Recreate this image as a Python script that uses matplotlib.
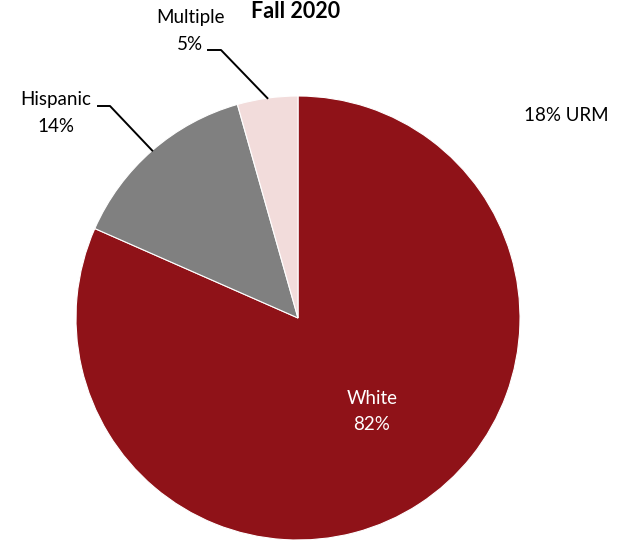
import numpy as np
import matplotlib
matplotlib.use("Agg")
import matplotlib.pyplot as plt

categories = ["White", "Hispanic", "Multiple"]
values = [81.6, 14.0, 4.4]
pct_labels = ["82%", "14%", "5%"]
colors = ["#8F1218", "#808080", "#F2DCDB"]
title = "Fall 2020"
note = "18% URM"

plt.rcParams['font.family'] = ['Lato', 'DejaVu Sans']

W, H = 618, 540
fig = plt.figure(figsize=(W / 100, H / 100), dpi=100)
cx, cy, r = 298, 318, 222
ax = fig.add_axes([(cx - r) / W, (H - cy - r) / H, 2 * r / W, 2 * r / H])
wedges, _ = ax.pie(values, colors=colors, startangle=90, counterclock=False,
                   wedgeprops=dict(edgecolor="white", linewidth=0.8))
ax.set_xlim(-1, 1)
ax.set_ylim(-1, 1)
ax.set_aspect("equal")
ax.axis("off")

fs = 13.5

def px(x, y):
    return (x / W, 1 - y / H)

# White label inside
fig.text(*px(372, 398), categories[0], ha="center", va="center", color="white", fontsize=fs)
fig.text(*px(372, 425), pct_labels[0], ha="center", va="center", color="white", fontsize=fs)

# Leader lines for outside labels
elbows = {1: (110, 106), 2: (221, 50)}
ends = {1: (98, 106), 2: (208, 50)}
for i in (1, 2):
    w = wedges[i]
    ang = np.deg2rad((w.theta1 + w.theta2) / 2)
    ex = cx + r * np.cos(ang)
    ey = cy - r * np.sin(ang)
    xs = [ex, elbows[i][0], ends[i][0]]
    ys = [ey, elbows[i][1], ends[i][1]]
    fig.add_artist(plt.Line2D([x / W for x in xs], [1 - y / H for y in ys],
                              color="black", linewidth=1.4, transform=fig.transFigure))

fig.text(*px(56, 99), categories[1], ha="center", va="center", fontsize=fs)
fig.text(*px(56, 126), pct_labels[1], ha="center", va="center", fontsize=fs)
fig.text(*px(190, 18), categories[2], ha="center", va="center", fontsize=fs)
fig.text(*px(190, 45), pct_labels[2], ha="center", va="center", fontsize=fs)

fig.text(*px(296, 12), title, ha="center", va="center", fontsize=15.5, fontweight="bold")
fig.text(*px(566, 115), note, ha="center", va="center", fontsize=fs)

fig.savefig("out.png", dpi=100)
